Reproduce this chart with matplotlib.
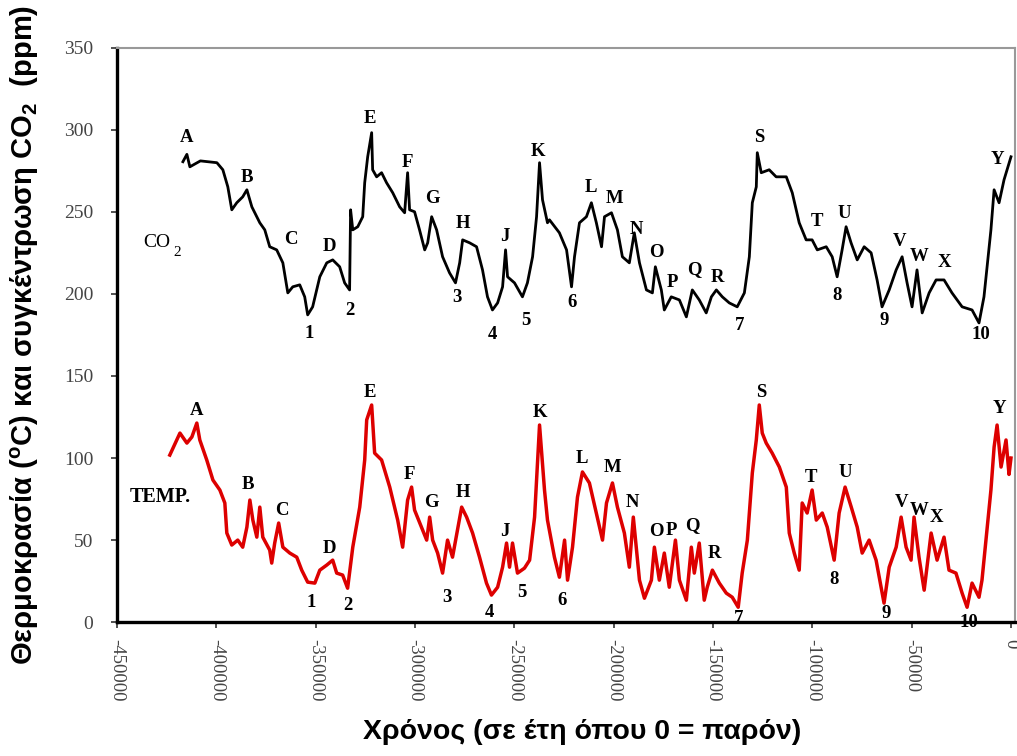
import matplotlib
matplotlib.use("Agg")
import matplotlib.pyplot as plt

# Vostok record: time in thousands of years (negative = before present)
co2_ka = [-416.8, -414.8, -413.3, -408.0, -399.7, -396.7, -394.2, -392.2, -389.7, -386.7,
          -384.6, -382.1, -378.1, -375.6, -373.1, -369.6, -366.5, -364.0, -361.5, -358.0,
          -355.5, -354.0, -351.5, -347.9, -344.4, -341.4, -337.9, -335.4, -332.9, -332.4,
          -331.3, -328.8, -326.3, -325.3, -323.8, -321.8, -321.3, -319.3, -316.8, -314.3,
          -311.2, -307.7, -305.2, -303.7, -302.7, -300.2, -297.7, -295.1, -293.6, -291.6,
          -289.1, -286.1, -282.6, -279.6, -277.5, -276.0, -272.5, -269.0, -266.0, -263.5,
          -261.0, -258.4, -255.9, -254.4, -253.4, -249.9, -245.9, -243.4, -240.8, -238.8,
          -237.3, -235.8, -233.3, -232.3, -227.3, -223.7, -221.2, -219.7, -217.2, -213.7,
          -211.2, -208.7, -206.1, -204.6, -201.1, -198.1, -195.6, -192.1, -189.6, -187.0,
          -183.5, -180.5, -179.0, -176.0, -174.5, -171.0, -166.9, -163.4, -160.4, -156.9,
          -153.4, -150.8, -148.3, -145.3, -141.8, -137.8, -134.2, -131.7, -130.2, -128.2,
          -127.7, -125.7, -121.7, -118.2, -113.1, -110.1, -106.6, -103.1, -100.1, -97.5,
          -93.0, -90.0, -87.5, -85.0, -83.0, -80.5, -77.4, -73.9, -70.4, -67.4,
          -64.9, -61.3, -57.8, -54.8, -52.3, -49.8, -47.3, -44.7, -41.2, -37.7,
          -33.7, -29.7, -24.6, -19.6, -16.1, -13.6, -10.1, -8.5, -6.0, -3.5, 0.0]
co2_ppm = [280.5, 285.0, 277.4, 281.0, 279.9, 275.6, 265.2, 251.2, 255.5, 259.1,
           263.4, 253.0, 243.3, 239.0, 228.7, 226.8, 218.9, 200.6, 204.3, 205.5,
           198.2, 187.2, 192.1, 210.4, 218.9, 220.7, 216.5, 206.7, 202.4, 251.2,
           239.0, 240.9, 247.0, 267.7, 283.5, 298.2, 275.6, 271.3, 273.8, 267.7,
           261.6, 253.0, 249.4, 273.8, 251.2, 250.0, 239.0, 226.8, 231.1, 247.0,
           239.0, 222.6, 212.8, 206.7, 218.9, 232.9, 231.1, 228.7, 214.6, 198.2,
           190.2, 194.5, 204.3, 226.8, 210.4, 206.7, 198.2, 206.7, 222.6, 247.0,
           279.9, 257.3, 243.3, 245.1, 237.2, 226.8, 204.3, 222.6, 243.3, 247.0,
           255.5, 243.3, 228.7, 247.0, 249.4, 239.0, 222.6, 218.9, 237.2, 218.9,
           202.4, 200.6, 216.5, 202.4, 190.2, 198.2, 196.3, 186.0, 202.4, 196.3,
           188.4, 198.2, 202.4, 198.2, 194.5, 192.1, 200.6, 222.6, 255.5, 265.2,
           286.0, 273.8, 275.6, 271.3, 271.3, 261.6, 243.3, 232.9, 232.9, 226.8,
           228.7, 222.6, 210.4, 226.8, 240.9, 231.1, 220.7, 228.7, 225.0, 208.5,
           192.1, 202.4, 214.6, 222.6, 206.7, 192.1, 214.6, 188.4, 200.6, 208.5,
           208.5, 200.6, 192.1, 190.2, 182.3, 198.2, 239.0, 263.4, 255.5, 269.5, 283.5]

temp_ka = [-423.4, -418.3, -414.8, -412.3, -409.8, -408.3, -404.8, -401.7, -398.2, -395.7,
           -394.7, -392.2, -389.2, -386.7, -384.6, -383.1, -381.6, -379.6, -378.1, -376.6,
           -373.1, -372.1, -370.6, -368.6, -366.5, -363.0, -359.5, -357.0, -354.0, -350.4,
           -347.9, -344.4, -341.4, -339.4, -336.4, -333.9, -331.3, -327.8, -325.3, -324.3,
           -321.8, -320.3, -316.8, -312.7, -308.7, -306.2, -303.7, -301.7, -300.2, -296.7,
           -294.1, -292.6, -291.1, -288.6, -286.1, -283.6, -281.1, -276.5, -274.0, -271.0,
           -267.5, -264.0, -261.5, -258.4, -255.9, -253.9, -252.4, -250.9, -248.4, -244.9,
           -242.3, -239.8, -237.3, -234.8, -233.3, -229.8, -227.3, -224.7, -223.2, -220.7,
           -218.2, -215.7, -212.2, -208.7, -205.6, -203.6, -200.6, -198.1, -194.6, -192.1,
           -190.1, -187.0, -184.5, -181.0, -179.5, -177.0, -174.5, -172.0, -168.9, -166.9,
           -163.4, -160.9, -159.4, -156.9, -154.4, -152.9, -150.3, -146.8, -143.3, -140.3,
           -137.3, -135.3, -132.7, -130.2, -128.2, -126.7, -125.2, -123.2, -120.2, -116.6,
           -113.1, -111.6, -109.1, -106.6, -105.1, -102.6, -100.1, -98.0, -95.0, -92.5,
           -89.0, -86.5, -83.5, -80.4, -77.4, -74.9, -71.4, -67.9, -63.9, -61.3,
           -57.8, -55.3, -52.8, -50.3, -48.8, -46.3, -43.7, -40.2, -37.2, -33.7,
           -31.2, -27.7, -24.6, -22.1, -19.6, -16.1, -14.6, -12.6, -10.1, -8.5,
           -7.0, -5.0, -2.5, -1.0, 0.0]
temp_val = [101.8, 115.2, 109.1, 112.8, 121.3, 111.0, 98.8, 86.6, 80.5, 72.6,
            54.3, 47.0, 50.0, 45.7, 57.9, 74.4, 62.2, 51.8, 70.1, 51.8,
            43.9, 36.0, 48.2, 60.4, 45.7, 42.1, 39.6, 31.7, 24.4, 23.8,
            31.7, 34.8, 37.8, 29.9, 28.7, 20.7, 45.7, 70.1, 98.8, 123.2,
            132.3, 103.0, 98.8, 82.3, 62.2, 45.7, 74.4, 82.3, 68.3, 57.9,
            50.0, 64.0, 50.0, 42.1, 29.9, 50.0, 39.6, 70.1, 64.0, 54.3,
            39.6, 23.8, 16.5, 21.3, 33.5, 48.2, 33.5, 48.2, 29.9, 32.9,
            37.8, 64.0, 120.1, 80.5, 62.2, 39.6, 27.4, 50.0, 25.6, 45.7,
            76.2, 91.5, 84.8, 66.5, 50.0, 72.6, 84.8, 70.1, 54.3, 33.5,
            64.0, 25.6, 14.6, 25.6, 45.7, 25.6, 42.1, 21.3, 50.0, 25.6,
            13.4, 45.7, 29.9, 48.2, 13.4, 21.3, 31.7, 23.8, 17.7, 15.2,
            9.1, 29.9, 50.0, 90.9, 111.0, 132.3, 115.2, 109.1, 103.0, 94.5,
            82.3, 54.3, 42.1, 31.7, 72.6, 66.5, 80.5, 62.2, 66.5, 57.9,
            37.8, 66.5, 82.3, 70.1, 57.9, 42.1, 50.0, 37.8, 11.6, 33.5,
            45.7, 64.0, 45.7, 37.8, 64.0, 39.6, 19.5, 54.3, 37.8, 51.8,
            31.7, 29.9, 17.7, 9.1, 23.8, 15.2, 25.6, 50.0, 80.5, 106.7,
            120.1, 94.5, 111.0, 90.0, 100.0]

x_ticks = [-450000, -400000, -350000, -300000, -250000, -200000,
           -150000, -100000, -50000, 0]
x_tick_labels = ["-450000", "-400000", "-350000", "-300000", "-250000", "-200000",
                 "-150000", "-100000", "-50000", "0"]
y_ticks = [0, 50, 100, 150, 200, 250, 300, 350]

# Event letters / numbers along each curve: (text, thousand years, value)
co2_marks = [("A", -414.8, 295), ("B", -384.6, 271), ("C", -362.5, 233), ("D", -342.9, 229),
             ("1", -353.0, 176), ("2", -332.9, 190), ("E", -322.8, 307), ("F", -303.7, 280),
             ("G", -291.1, 258), ("H", -276.0, 243), ("3", -279.1, 198), ("J", -254.9, 235),
             ("4", -261.0, 175), ("5", -244.4, 184), ("K", -238.3, 287), ("6", -220.7, 195),
             ("L", -211.2, 265), ("M", -199.6, 258), ("N", -188.6, 239), ("O", -178.5, 225),
             ("P", -170.5, 207), ("Q", -159.4, 215), ("R", -147.8, 210), ("7", -136.8, 181),
             ("S", -126.7, 295), ("T", -97.5, 244), ("U", -84.0, 249), ("8", -87.5, 199),
             ("9", -63.9, 184), ("V", -56.3, 232), ("W", -46.3, 223), ("X", -33.7, 219),
             ("10", -15.1, 175), ("Y", -7.0, 282)]
temp_marks = [("A", -409.8, 129), ("B", -384.1, 84), ("C", -367.0, 68), ("D", -342.9, 45),
              ("1", -352.0, 12), ("2", -333.9, 10), ("E", -322.8, 140), ("F", -302.7, 90),
              ("G", -291.6, 73), ("H", -276.0, 79), ("3", -284.1, 15), ("J", -254.9, 55),
              ("4", -262.5, 6), ("5", -246.4, 18), ("K", -237.3, 128), ("6", -225.8, 13),
              ("L", -215.7, 100), ("M", -200.6, 94), ("N", -190.6, 73), ("O", -178.5, 55),
              ("P", -171.0, 56), ("Q", -160.4, 59), ("R", -149.3, 42), ("7", -137.3, 2),
              ("S", -125.7, 140), ("T", -100.6, 88), ("U", -83.5, 91), ("8", -89.0, 26),
              ("9", -62.9, 5), ("V", -55.3, 73), ("W", -46.3, 68), ("X", -37.7, 64),
              ("10", -21.1, 0), ("Y", -6.0, 130)]

plt.rcParams["mathtext.fontset"] = "custom"
plt.rcParams["mathtext.rm"] = "Liberation Sans:bold"
plt.rcParams["mathtext.it"] = "Liberation Sans:bold"
plt.rcParams["mathtext.bf"] = "Liberation Sans:bold"

fig = plt.figure(figsize=(10.17, 7.56), dpi=100)
ax = fig.add_axes([0.115, 0.177, 0.883, 0.76])

ax.plot([k * 1000 for k in co2_ka], co2_ppm, color="black", lw=2.0, solid_joinstyle="round")
ax.plot([k * 1000 for k in temp_ka], temp_val, color="#dd0000", lw=2.5, solid_joinstyle="round")

serif = ["Liberation Serif", "DejaVu Serif"]
for txt, k, v in co2_marks + temp_marks:
    ax.text(k * 1000, v, txt, ha="center", va="center", fontsize=13.5,
            fontweight="bold", family=serif, color="black")

ax.text(-437000, 231, "CO", ha="left", va="center", fontsize=14, family=serif)
ax.text(-421500, 225, "2", ha="left", va="center", fontsize=11, family=serif)
ax.text(-443500, 76, "TEMP.", ha="left", va="center", fontsize=14.5,
        fontweight="bold", family=serif)

ax.set_xlim(-450000, 2000)
ax.set_ylim(0, 350)
ax.set_xticks(x_ticks)
ax.set_xticklabels(x_tick_labels, rotation=270, family=serif, fontsize=13.5, color="#444444")
ax.set_yticks(y_ticks)
ax.set_yticklabels([str(t) for t in y_ticks], family=serif, fontsize=14, color="#444444")
ax.tick_params(axis="both", length=4, width=1.2, color="#333333")
ax.tick_params(axis="y", pad=13)
ax.tick_params(axis="x", pad=8)

for side in ("left", "bottom"):
    ax.spines[side].set_linewidth(2.4)
    ax.spines[side].set_color("black")
for side in ("top", "right"):
    ax.spines[side].set_linewidth(1.5)
    ax.spines[side].set_color("#999999")

fig.text(0.024, 0.557, r"Θερμοκρασία ($^{\mathrm{o}}$C) και συγκέντρωση CO$_{\mathrm{2}}$  (ppm)",
         rotation=90, ha="center", va="center", fontsize=21, fontweight="bold",
         family=["Liberation Sans", "DejaVu Sans"])
fig.text(0.572, 0.032, "Χρόνος (σε έτη όπου 0 = παρόν)", ha="center", va="center",
         fontsize=20.5, fontweight="bold", family=["Liberation Sans", "DejaVu Sans"])

fig.savefig("out.png", dpi=100)
